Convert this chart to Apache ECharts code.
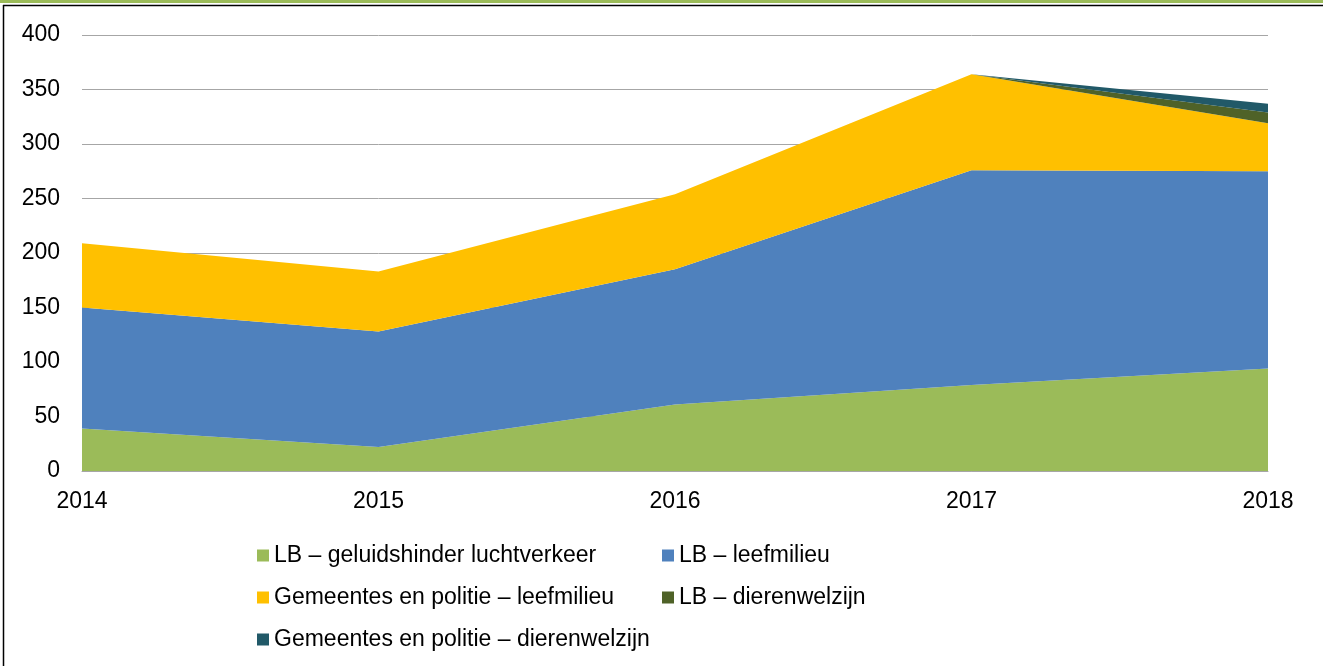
<!DOCTYPE html>
<html>
<head>
<meta charset="utf-8">
<script src="https://cdn.jsdelivr.net/npm/echarts@6/dist/echarts.min.js"></script>
<style>
  html, body { margin: 0; padding: 0; background: #fff; }
  #chart { width: 1323px; height: 666px; }
</style>
</head>
<body>
<div id="chart"></div>
<script>
  const years = ['2014', '2015', '2016', '2017', '2018']
  const seriesNames = [
    'LB – geluidshinder luchtverkeer',
    'LB – leefmilieu',
    'Gemeentes en politie – leefmilieu',
    'LB – dierenwelzijn',
    'Gemeentes en politie – dierenwelzijn'
  ]
  const geluidshinder = [39, 22, 61, 79, 94]
  const leefmilieuLB = [111, 106, 124, 197, 181]
  const leefmilieuGem = [59, 55, 69, 88, 44]
  const dierenLB = [0, 0, 0, 0, 10]
  const dierenGem = [0, 0, 0, 0, 8]
  const colors = ['#9BBB59', '#4F81BD', '#FFC000', '#4F6228', '#215968']

  const values = [geluidshinder, leefmilieuLB, leefmilieuGem, dierenLB, dierenGem]

  const chart = echarts.init(document.getElementById('chart'))
  const font = 'Arial, "Liberation Sans", sans-serif'
  const legendText = { fontFamily: font, fontSize: 23, color: '#000' }

  chart.setOption({
    animation: false,
    color: colors,
    grid: { left: 82, right: 55, top: 35, bottom: 195 },
    // legend in twee kolommen, zoals in het origineel
    legend: [
      {
        orient: 'vertical', left: 252, top: 539, itemWidth: 12, itemHeight: 12,
        itemGap: 19, itemStyle: { borderWidth: 0 }, icon: 'rect', textStyle: legendText,
        data: [seriesNames[0], seriesNames[2], seriesNames[4]]
      },
      {
        orient: 'vertical', left: 657, top: 539, itemWidth: 12, itemHeight: 12,
        itemGap: 19, itemStyle: { borderWidth: 0 }, icon: 'rect', textStyle: legendText,
        data: [seriesNames[1], seriesNames[3]]
      }
    ],
    xAxis: {
      type: 'category',
      data: years,
      boundaryGap: false,
      axisLine: { lineStyle: { color: '#a6a6a6' } },
      axisTick: { show: false },
      axisLabel: { fontFamily: font, fontSize: 23, color: '#000', margin: 19 }
    },
    yAxis: {
      type: 'value',
      min: 0, max: 400, interval: 50,
      axisLine: { show: false },
      axisTick: { show: false },
      splitLine: { lineStyle: { color: '#a6a6a6', width: 1 } },
      axisLabel: { fontFamily: font, fontSize: 23, color: '#000', margin: 22 }
    },
    series: seriesNames.map((name, i) => ({
      name: name,
      type: 'line',
      stack: 'totaal',
      data: values[i],
      symbol: 'none',
      lineStyle: { width: 0 },
      areaStyle: { color: colors[i], opacity: 1 },
      z: 2
    })),
    graphic: [
      { type: 'rect', shape: { x: 0, y: 0, width: 1323, height: 3 }, style: { fill: '#9BBB59' }, silent: true },
      { type: 'line', shape: { x1: 3, y1: 5.5, x2: 1323, y2: 5.5 }, style: { stroke: '#000', lineWidth: 1.5 }, silent: true },
      { type: 'line', shape: { x1: 3.5, y1: 5, x2: 3.5, y2: 666 }, style: { stroke: '#000', lineWidth: 1.5 }, silent: true }
    ]
  })
</script>
</body>
</html>
